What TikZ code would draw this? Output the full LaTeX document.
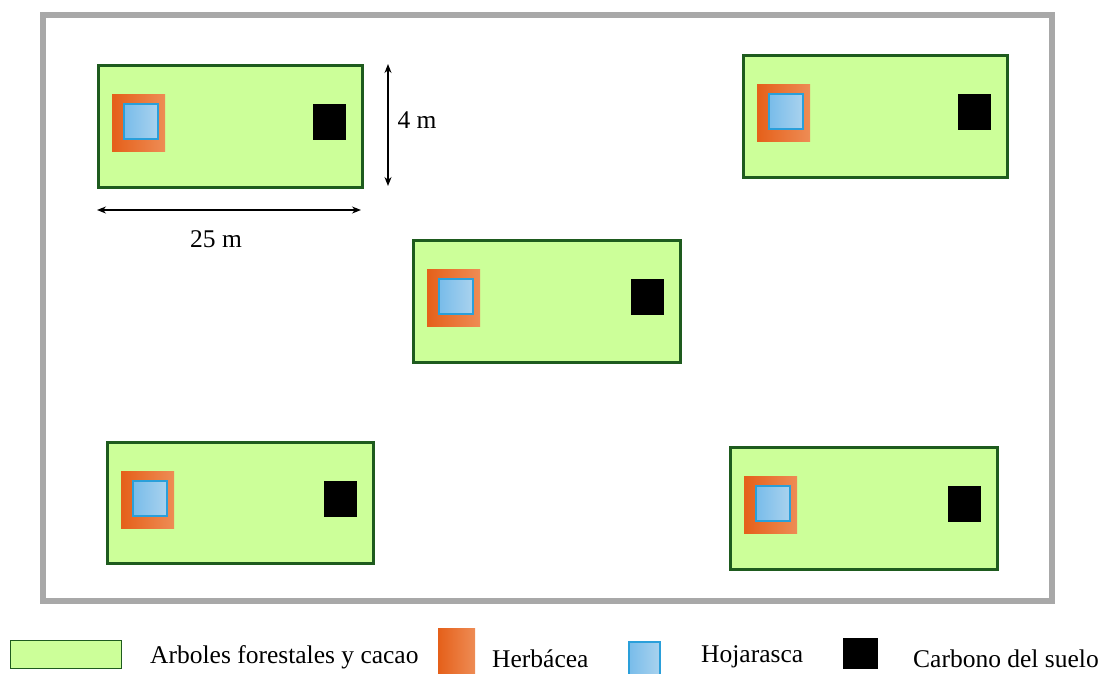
\documentclass[tikz,border=0pt]{standalone}
\usepackage{fontspec}
\setmainfont{Liberation Serif}
\usetikzlibrary{arrows.meta,calc}
\definecolor{plotfill}{HTML}{CCFF99}
\definecolor{plotline}{HTML}{1E5B1E}
\definecolor{frame}{HTML}{A8A8A8}
\definecolor{orL}{HTML}{E5601A}
\definecolor{orR}{HTML}{EE8C55}
\definecolor{blL}{HTML}{78BCEA}
\definecolor{blR}{HTML}{A9D2EE}
\definecolor{blline}{HTML}{2A9FDA}
\tikzset{
  plotbox/.style={draw=plotline, fill=plotfill, line width=2.6pt, inner sep=0pt, anchor=north west},
  herb/.style={inner sep=0pt, anchor=north west, minimum width=53pt, minimum height=57pt, shading=axis, left color=orL, right color=orR, shading angle=90},
  hoja/.style={inner sep=0pt, anchor=north west, minimum width=34pt, minimum height=35pt, left color=blL, right color=blR, draw=blline, line width=1.6pt},
  soil/.style={inner sep=0pt, anchor=north east, minimum width=33pt, minimum height=36pt, fill=black},
  dim/.style={line width=1.3pt, {Stealth[length=9pt,width=7pt]}-{Stealth[length=9pt,width=7pt]}},
  lbl/.style={font=\fontsize{25.5}{28}\selectfont, inner sep=0pt}
}
\newcommand{\myplot}[5]{%
  \node[plotbox, minimum width=#4pt, minimum height=#5pt] (#1) at (#2,#3) {};
  \node[herb] (#1h) at ($(#1.north west)+(15,30)$) {};
  \node[hoja] (#1b) at ($(#1.north west)+(26,39)$) {};
  \node[soil] (#1s) at ($(#1.north east)+(-17,40)$) {};
}
\begin{document}
\begin{tikzpicture}[x=1pt,y=-1pt]
\useasboundingbox (0,0) rectangle (1112,673);
\node[draw=frame, line width=5.5pt, minimum width=1009pt, minimum height=586pt, inner sep=0pt, anchor=north west] (frame) at (40,12) {};
\myplot{p1}{97}{64}{264}{122}
\myplot{p2}{742}{54}{264}{122}
\myplot{p3}{412}{239}{267}{122}
\myplot{p4}{106}{441}{266}{121}
\myplot{p5}{729}{446}{267}{122}
% dimensions
\coordinate (vA) at (388,64);
\coordinate (vB) at (388,186);
\draw[dim] (vA) -- (vB);
\node[lbl] (v) at (417,120) {4 m};
\coordinate (hA) at (97,210);
\coordinate (hB) at (361,210);
\draw[dim] (hA) -- (hB);
\node[lbl] (h) at (216,239) {25 m};
% legend
\node[draw=plotline, fill=plotfill, line width=1.2pt, inner sep=0pt, minimum width=111pt, minimum height=28pt, anchor=north west] (lg1) at (10,640) {};
\node[lbl, anchor=west] (lt1) at (150,657) {Arboles forestales y cacao};
\node[herb, minimum width=37pt, minimum height=46pt] (lg2) at (438,628) {};
\node[lbl, anchor=west] (lt2) at (492,659) {Herbácea};
\node[hoja, minimum width=31pt, minimum height=33pt] (lg3) at (628,641) {};
\node[lbl, anchor=west] (lt3) at (701,657) {Hojarasca};
\node[fill=black, inner sep=0pt, minimum width=35pt, minimum height=31pt, anchor=north west] (lg4) at (843,638) {};
\node[lbl, anchor=west] (lt4) at (913,659) {Carbono del suelo};
\end{tikzpicture}
\end{document}
